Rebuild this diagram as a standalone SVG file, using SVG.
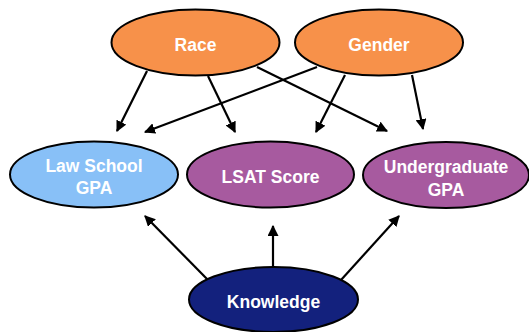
<svg xmlns="http://www.w3.org/2000/svg" width="529" height="332" viewBox="0 0 529 332">
<defs>
<style>
.n{stroke:#000;stroke-width:2}
.t{font-family:"Liberation Sans",Arial,sans-serif;font-weight:bold;font-size:17.5px;fill:#fff;text-anchor:middle}
.e{stroke:#000;stroke-width:2.2;fill:none;marker-end:url(#ah)}
</style>
<marker id="ah" viewBox="0 0 10 10" refX="9" refY="5" markerWidth="5" markerHeight="5" orient="auto" markerUnits="strokeWidth">
<path d="M0,0 L10,5 L0,10 z" fill="#000"/>
</marker>
</defs>
<rect width="529" height="332" fill="#fff"/>
<g id="edges">
<line class="e" x1="147" y1="71" x2="117" y2="131"/>
<line class="e" x1="208" y1="76" x2="235" y2="132"/>
<line class="e" x1="257" y1="67" x2="387" y2="131"/>
<line class="e" x1="317" y1="67" x2="145" y2="132"/>
<line class="e" x1="345" y1="75" x2="316" y2="132"/>
<line class="e" x1="412" y1="75" x2="423" y2="129"/>
<line class="e" x1="208" y1="280" x2="145" y2="216"/>
<line class="e" x1="273" y1="267" x2="273" y2="226"/>
<line class="e" x1="341" y1="280" x2="399" y2="216"/>
</g>
<g id="race"><ellipse class="n" cx="195.5" cy="42.5" rx="84" ry="33" fill="#F7914A"/><text class="t" x="195.5" y="50.5">Race</text></g>
<g id="gender"><ellipse class="n" cx="379" cy="42.5" rx="84" ry="33" fill="#F7914A"/><text class="t" x="379" y="50.5">Gender</text></g>
<g id="lawgpa"><ellipse class="n" cx="94" cy="174.5" rx="84" ry="33" fill="#88C0F7"/><text class="t" x="94" y="171.5">Law School</text><text class="t" x="94" y="194">GPA</text></g>
<g id="lsat"><ellipse class="n" cx="270.5" cy="174.5" rx="83.5" ry="33" fill="#A75A9F"/><text class="t" x="270.5" y="182.5">LSAT Score</text></g>
<g id="ugpa"><ellipse class="n" cx="446" cy="175" rx="83" ry="33" fill="#A75A9F"/><text class="t" x="446" y="173">Undergraduate</text><text class="t" x="446" y="196">GPA</text></g>
<g id="knowledge"><ellipse class="n" cx="273.5" cy="299.5" rx="84.5" ry="32.5" fill="#13217D"/><text class="t" x="273.5" y="307.5">Knowledge</text></g>
</svg>
